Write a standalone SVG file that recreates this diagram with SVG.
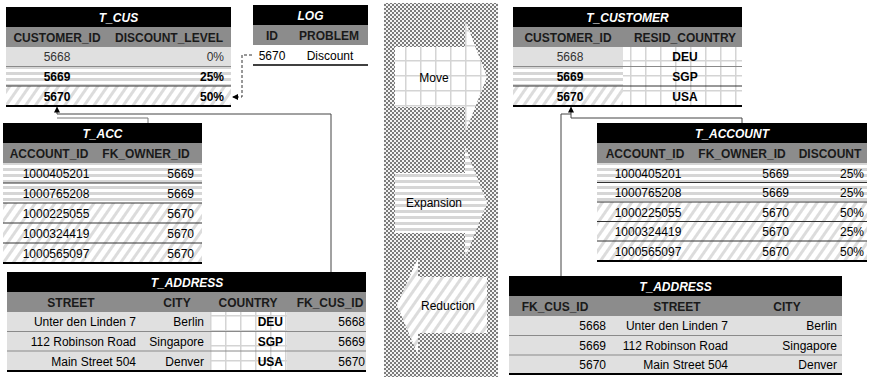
<svg xmlns="http://www.w3.org/2000/svg" width="870" height="379" viewBox="0 0 870 379">
<defs>
<pattern id="checker" width="4" height="4" patternUnits="userSpaceOnUse">
<rect width="4" height="4" fill="#f4f4f4"/>
<rect width="2" height="2" fill="#7c7c7c"/>
<rect x="2" y="2" width="2" height="2" fill="#7c7c7c"/>
</pattern>
<pattern id="hstripe" width="6" height="6" patternUnits="userSpaceOnUse">
<rect width="6" height="6" fill="#ffffff"/>
<rect width="6" height="3" fill="#d6d6d6"/>
</pattern>
<pattern id="diag" width="8" height="8" patternUnits="userSpaceOnUse" patternTransform="rotate(35)">
<rect width="8" height="8" fill="#ffffff"/>
<rect width="3" height="8" fill="#dcdcdc"/>
</pattern>
<pattern id="grid" width="15" height="15" patternUnits="userSpaceOnUse">
<rect width="15" height="15" fill="#ffffff"/>
<path d="M0,0.75 H15 M0.75,0 V15" stroke="#d4d4d4" stroke-width="1.5" fill="none"/>
</pattern>
<marker id="arr" markerWidth="6" markerHeight="6" refX="5" refY="3" orient="auto" markerUnits="userSpaceOnUse">
<path d="M0,0 L6,3 L0,6 Z" fill="#000"/>
</marker>
</defs>
<style>
text{font-family:"Liberation Sans",Arial,Helvetica,sans-serif;font-size:12px;fill:#000}
.t{fill:#fff;font-weight:bold;font-style:italic;text-anchor:middle}
.h{font-weight:bold;text-anchor:middle;fill:#1a1a1a}
.c{text-anchor:middle}
.r{text-anchor:end}
.b{font-weight:bold;fill:#000}
.g{fill:#333}
.title{fill:#000}
.head{fill:#8c8c8c}
.solid{fill:#e0e0e0}
.hs{fill:url(#hstripe)}
.dg{fill:url(#diag)}
.gr{fill:url(#grid)}
.sep{stroke:#333;stroke-width:1}
.sepl{stroke:#8a8a8a;stroke-width:1}
.bot{stroke:#000;stroke-width:2}
.conn{stroke:#444;stroke-width:1;fill:none}
.connl{stroke:#777;stroke-width:1;fill:none}
.dash{stroke:#333;stroke-width:1;fill:none;stroke-dasharray:3,2}
.mid text{font-size:12px;text-anchor:middle;fill:#000}
</style>

<!-- middle transformation column -->
<g id="transform" class="mid">
<rect x="384" y="3" width="114" height="374" fill="url(#checker)"/>
<g id="move">
<polygon points="395,47 465,47 465,20 487,77 465,133 465,107 395,107" fill="url(#grid)"/>
<text x="434" y="82">Move</text>
</g>
<g id="expansion">
<polygon points="395,173 465,173 465,147 487,203 465,258 465,233 395,233" fill="url(#hstripe)"/>
<text x="434" y="207">Expansion</text>
</g>
<g id="reduction">
<polygon points="487,277 418,277 418,258 397,305 418,355 418,333 487,333" fill="url(#diag)"/>
<text x="448" y="310">Reduction</text>
</g>
</g>

<!-- T_CUS -->
<g id="t_cus">
<rect class="title" x="6" y="7" width="225" height="20"/>
<text class="t" x="118.5" y="22">T_CUS</text>
<rect class="head" x="6" y="27" width="225" height="20"/>
<text class="h" x="57" y="42">CUSTOMER_ID</text>
<text class="h" x="169" y="42">DISCOUNT_LEVEL</text>
<rect class="solid" x="6" y="47" width="225" height="19.5"/>
<rect class="hs" x="6" y="66.5" width="225" height="19.5"/>
<rect class="dg" x="6" y="86" width="225" height="20"/>
<line class="sepl" x1="6" y1="66.5" x2="231" y2="66.5"/>
<line class="sep" x1="6" y1="86" x2="231" y2="86"/>
<line class="bot" x1="6" y1="106" x2="231" y2="106"/>
<text class="c g" x="57" y="61">5668</text>
<text class="r g" x="224" y="61">0%</text>
<text class="c b" x="57" y="81">5669</text>
<text class="r b" x="224" y="81">25%</text>
<text class="c b" x="57" y="101">5670</text>
<text class="r b" x="224" y="101">50%</text>
</g>

<!-- LOG -->
<g id="log">
<rect class="title" x="253" y="5" width="115" height="20"/>
<text class="t" x="310.5" y="20">LOG</text>
<rect class="head" x="253" y="25" width="115" height="20"/>
<text class="h" x="272" y="40">ID</text>
<text class="h" x="329" y="40">PROBLEM</text>
<text class="c" x="272" y="60">5670</text>
<text class="c" x="330" y="60">Discount</text>
<line x1="253" y1="65" x2="368" y2="65" stroke="#000" stroke-width="1.5"/>
</g>

<!-- T_ACC -->
<g id="t_acc">
<rect class="title" x="3" y="123" width="199" height="20"/>
<text class="t" x="102.5" y="138">T_ACC</text>
<rect class="head" x="3" y="143" width="199" height="20"/>
<text class="h" x="49" y="158">ACCOUNT_ID</text>
<text class="h" x="146" y="158">FK_OWNER_ID</text>
<rect class="hs" x="3" y="163" width="199" height="40"/>
<rect class="dg" x="3" y="203" width="199" height="60"/>
<line class="sep" x1="3" y1="183" x2="202" y2="183"/>
<line class="sep" x1="3" y1="203" x2="202" y2="203"/>
<line class="sep" x1="3" y1="223" x2="202" y2="223"/>
<line class="sep" x1="3" y1="243" x2="202" y2="243"/>
<line class="bot" x1="3" y1="263" x2="202" y2="263"/>
<text class="c" x="56" y="178">1000405201</text>
<text class="r" x="194" y="178">5669</text>
<text class="c" x="56" y="198">1000765208</text>
<text class="r" x="194" y="198">5669</text>
<text class="c" x="56" y="218">1000225055</text>
<text class="r" x="194" y="218">5670</text>
<text class="c" x="56" y="238">1000324419</text>
<text class="r" x="194" y="238">5670</text>
<text class="c" x="56" y="258">1000565097</text>
<text class="r" x="194" y="258">5670</text>
</g>

<!-- T_ADDRESS (left) -->
<g id="t_address_left">
<rect class="title" x="7" y="272" width="359" height="20"/>
<text class="t" x="187" y="287">T_ADDRESS</text>
<rect class="head" x="7" y="292" width="359" height="20"/>
<text class="h" x="71" y="307">STREET</text>
<text class="h" x="177" y="307">CITY</text>
<text class="h" x="248" y="307">COUNTRY</text>
<text class="h" x="330" y="307">FK_CUS_ID</text>
<rect class="solid" x="7" y="312" width="359" height="59"/>
<rect class="gr" x="210" y="312" width="77" height="59"/>
<line class="sepl" x1="7" y1="331.5" x2="366" y2="331.5"/>
<line class="sepl" x1="7" y1="351" x2="366" y2="351"/>
<line class="bot" x1="7" y1="371" x2="366" y2="371"/>
<text class="r" x="136" y="326">Unter den Linden 7</text>
<text class="r" x="204" y="326">Berlin</text>
<text class="r b" x="283" y="326">DEU</text>
<text class="r" x="365" y="326">5668</text>
<text class="r" x="136" y="346">112 Robinson Road</text>
<text class="r" x="204" y="346">Singapore</text>
<text class="r b" x="283" y="346">SGP</text>
<text class="r" x="365" y="346">5669</text>
<text class="r" x="136" y="366">Main Street 504</text>
<text class="r" x="204" y="366">Denver</text>
<text class="r b" x="283" y="366">USA</text>
<text class="r" x="365" y="366">5670</text>
</g>

<!-- T_CUSTOMER -->
<g id="t_customer">
<rect class="title" x="513" y="7" width="229" height="20"/>
<text class="t" x="627.5" y="22">T_CUSTOMER</text>
<rect class="head" x="513" y="27" width="229" height="20"/>
<text class="h" x="568" y="42">CUSTOMER_ID</text>
<text class="h" x="685" y="42">RESID_COUNTRY</text>
<rect class="solid" x="513" y="47" width="110" height="19.5"/>
<rect class="hs" x="513" y="66.5" width="110" height="19.5"/>
<rect class="dg" x="513" y="86" width="110" height="20"/>
<rect class="gr" x="623" y="47" width="119" height="59"/>
<line class="sepl" x1="513" y1="66.5" x2="742" y2="66.5"/>
<line class="sep" x1="513" y1="86" x2="742" y2="86"/>
<line class="bot" x1="513" y1="106" x2="742" y2="106"/>
<text class="c g" x="570" y="61">5668</text>
<text class="c b" x="685" y="61">DEU</text>
<text class="c b" x="570" y="81">5669</text>
<text class="c b" x="685" y="81">SGP</text>
<text class="c b" x="570" y="101">5670</text>
<text class="c b" x="685" y="101">USA</text>
</g>

<!-- T_ACCOUNT -->
<g id="t_account">
<rect class="title" x="597" y="123" width="270" height="20"/>
<text class="t" x="732" y="138">T_ACCOUNT</text>
<rect class="head" x="597" y="143" width="270" height="20"/>
<text class="h" x="645" y="158">ACCOUNT_ID</text>
<text class="h" x="742" y="158">FK_OWNER_ID</text>
<text class="h" x="830" y="158">DISCOUNT</text>
<rect class="hs" x="597" y="163" width="270" height="39"/>
<rect class="dg" x="597" y="202" width="270" height="59"/>
<line class="sep" x1="597" y1="182.5" x2="867" y2="182.5"/>
<line class="sep" x1="597" y1="202" x2="867" y2="202"/>
<line class="sep" x1="597" y1="221.5" x2="867" y2="221.5"/>
<line class="sep" x1="597" y1="241" x2="867" y2="241"/>
<line class="bot" x1="597" y1="261" x2="867" y2="261"/>
<text class="c" x="648" y="178">1000405201</text>
<text class="r" x="789" y="178">5669</text>
<text class="r" x="864" y="178">25%</text>
<text class="c" x="648" y="197">1000765208</text>
<text class="r" x="789" y="197">5669</text>
<text class="r" x="864" y="197">25%</text>
<text class="c" x="648" y="217">1000225055</text>
<text class="r" x="789" y="217">5670</text>
<text class="r" x="864" y="217">50%</text>
<text class="c" x="648" y="236">1000324419</text>
<text class="r" x="789" y="236">5670</text>
<text class="r" x="864" y="236">25%</text>
<text class="c" x="648" y="256">1000565097</text>
<text class="r" x="789" y="256">5670</text>
<text class="r" x="864" y="256">50%</text>
</g>

<!-- T_ADDRESS (right) -->
<g id="t_address_right">
<rect class="title" x="509" y="276" width="333" height="20"/>
<text class="t" x="675.5" y="291">T_ADDRESS</text>
<rect class="head" x="509" y="296" width="333" height="20"/>
<text class="h" x="555" y="311">FK_CUS_ID</text>
<text class="h" x="677" y="311">STREET</text>
<text class="h" x="787" y="311">CITY</text>
<rect class="solid" x="509" y="316" width="333" height="58"/>
<line class="sepl" x1="509" y1="335.5" x2="842" y2="335.5"/>
<line class="sepl" x1="509" y1="355" x2="842" y2="355"/>
<line class="bot" x1="509" y1="374" x2="842" y2="374"/>
<text class="r" x="606" y="330">5668</text>
<text class="r" x="728" y="330">Unter den Linden 7</text>
<text class="r" x="837" y="330">Berlin</text>
<text class="r" x="606" y="350">5669</text>
<text class="r" x="728" y="350">112 Robinson Road</text>
<text class="r" x="837" y="350">Singapore</text>
<text class="r" x="606" y="369">5670</text>
<text class="r" x="728" y="369">Main Street 504</text>
<text class="r" x="837" y="369">Denver</text>
</g>

<!-- connectors -->
<g id="connectors">
<path class="dash" d="M252,55 H242 V97 H233" marker-end="url(#arr)"/>
<path class="conn" d="M331,272 V114 H57 V107.5" marker-end="url(#arr)"/>
<path class="connl" d="M148,123 V118 H57"/>
<path class="conn" d="M742,123 V118 H571 V107.5" marker-end="url(#arr)"/>
<path class="conn" d="M561,276 V114 H571"/>
</g>
</svg>
